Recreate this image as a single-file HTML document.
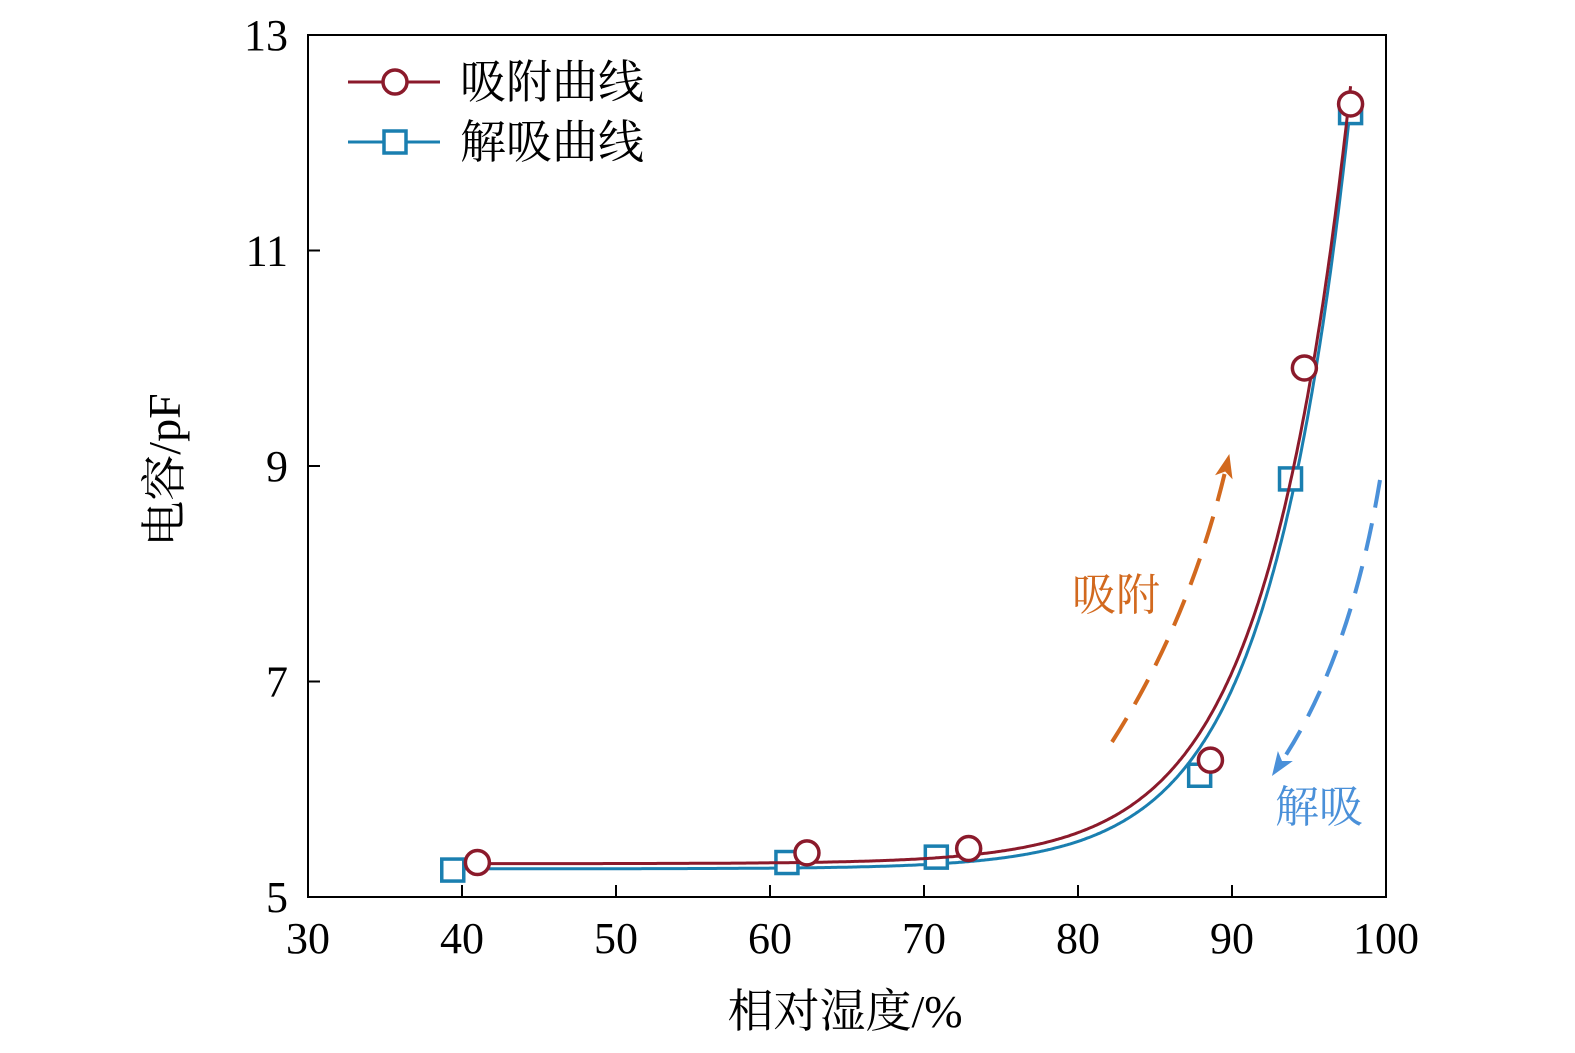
<!DOCTYPE html>
<html><head><meta charset="utf-8"><style>
html,body{margin:0;padding:0;background:#fff;}
svg{display:block;}
text{font-family:"Liberation Serif","Noto Serif CJK SC",serif;}
.cjk{font-family:"Liberation Serif","Noto Serif CJK SC","Noto Sans CJK SC",serif;}
</style></head><body>
<svg id="chart" width="1575" height="1053" viewBox="0 0 1575 1053"></svg>
<script>
const xTicks=[30,40,50,60,70,80,90,100];
const yTicks=[5,7,9,11,13];
const adsX=[41.0,62.4,72.9,88.6,94.7,97.7];
const adsY=[5.32,5.41,5.45,6.27,9.91,12.36];
const desX=[39.4,61.1,70.8,87.9,93.8,97.7];
const desY=[5.25,5.32,5.37,6.13,8.88,12.28];

const L=308,R=1386,T=35,B=897;
const sx=v=>L+(v-30)/70*(R-L);
const sy=v=>B-(v-5)/8*(B-T);
const svg=document.getElementById('chart');
const NS='http://www.w3.org/2000/svg';
function mk(tag,attrs,parent){const e=document.createElementNS(NS,tag);for(const k in attrs)e.setAttribute(k,attrs[k]);(parent||svg).appendChild(e);return e;}

function fit(xs,ys){let best=null;
 for(let c=0.05;c<0.6;c+=0.002){const f=xs.map(x=>Math.exp(c*(x-100)));
  const n=xs.length,mf=f.reduce((s,v)=>s+v,0)/n,my=ys.reduce((s,v)=>s+v,0)/n;
  let num=0,den=0;for(let i=0;i<n;i++){num+=(f[i]-mf)*(ys[i]-my);den+=(f[i]-mf)**2;}
  const b=num/den,a=my-b*mf;let err=0;for(let i=0;i<n;i++)err+=(a+b*f[i]-ys[i])**2;
  if(!best||err<best.err)best={a,b,c,err};}
 return x=>best.a+best.b*Math.exp(best.c*(x-100));}

const frame=mk('rect',{x:L,y:T,width:R-L,height:B-T,fill:'none',stroke:'#000','stroke-width':2});


xTicks.forEach(v=>{
 const t=mk('line',{x1:sx(v),x2:sx(v),y1:B,y2:B-12,stroke:'#000','stroke-width':2});
 
 
 const l=mk('text',{x:sx(v),y:953,'text-anchor':'middle','font-size':44});l.textContent=v;
 
 
});
yTicks.forEach(v=>{
 const t=mk('line',{x1:L,x2:L+12,y1:sy(v),y2:sy(v),stroke:'#000','stroke-width':2});
 
 
 const l=mk('text',{x:288,y:sy(v)+15,'text-anchor':'end','font-size':44});l.textContent=v;
 
 
});
const xl=mk('text',{x:845,y:1027,'text-anchor':'middle','font-size':46,class:'cjk'});xl.textContent='相对湿度/%';


const yl=mk('text',{x:0,y:0,'text-anchor':'middle','font-size':46,class:'cjk',transform:'translate(180,470) rotate(-90)'});yl.textContent='电容/pF';



function series(xs,ys,color,shape,name){
 const f=fit(xs,ys);let d='';
 for(let x=xs[0];x<=xs[xs.length-1]+0.001;x+=0.1){d+=(d?'L':'M')+sx(x).toFixed(1)+','+sy(f(x)).toFixed(1);}
 const p=mk('path',{d,fill:'none',stroke:color,'stroke-width':3});
 
 
 xs.forEach((x,i)=>{let m;
  if(shape==='c')m=mk('circle',{cx:sx(x),cy:sy(ys[i]),r:12,fill:'#fff',stroke:color,'stroke-width':3.5});
  else m=mk('rect',{x:sx(x)-11,y:sy(ys[i])-11,width:22,height:22,fill:'#fff',stroke:color,'stroke-width':3.5});
  
  
 });}
series(desX,desY,'#1a7fb0','s','desorption');
series(adsX,adsY,'#8b1a2b','c','adsorption');

const lg=mk('g',{});


mk('line',{x1:348,x2:440,y1:82,y2:82,stroke:'#8b1a2b','stroke-width':3},lg);
mk('circle',{cx:395,cy:82,r:12,fill:'#fff',stroke:'#8b1a2b','stroke-width':3.5},lg);
const t1=mk('text',{x:460,y:98,'font-size':46,class:'cjk'},lg);t1.textContent='吸附曲线';
mk('line',{x1:348,x2:440,y1:142,y2:142,stroke:'#1a7fb0','stroke-width':3},lg);
mk('rect',{x:384,y:131,width:22,height:22,fill:'#fff',stroke:'#1a7fb0','stroke-width':3.5},lg);
const t2=mk('text',{x:460,y:158,'font-size':46,class:'cjk'},lg);t2.textContent='解吸曲线';

function head(x,y,dx,dy,color,name){
 const n=Math.hypot(dx,dy),ux=dx/n,uy=dy/n,px=-uy,py=ux,len=24,w=9;
 const tx=x+ux*len*0.6,ty=y+uy*len*0.6;
 const bx=tx-ux*len,by=ty-uy*len;
 const h=mk('path',{d:`M${tx},${ty} L${bx+px*w},${by+py*w} L${bx+ux*6},${by+uy*6} L${bx-px*w},${by-py*w} Z`,fill:color});
 
 
}
const a1=mk('path',{d:'M1112,742 Q1190,620 1226,468',fill:'none',stroke:'#d2691e','stroke-width':4,'stroke-dasharray':'28,16'});


head(1226,468,36,-152,'#d2691e','adsorption-arrowhead');
const a2=mk('path',{d:'M1380,480 Q1350,660 1280,764',fill:'none',stroke:'#4a90d9','stroke-width':4,'stroke-dasharray':'28,16'});


head(1280,764,-70,104,'#4a90d9','desorption-arrowhead');
const at1=mk('text',{x:1072,y:610,'font-size':44,fill:'#d2691e',class:'cjk'});at1.textContent='吸附';


const at2=mk('text',{x:1275,y:822,'font-size':44,fill:'#4a90d9',class:'cjk'});at2.textContent='解吸';


</script>
</body></html>
